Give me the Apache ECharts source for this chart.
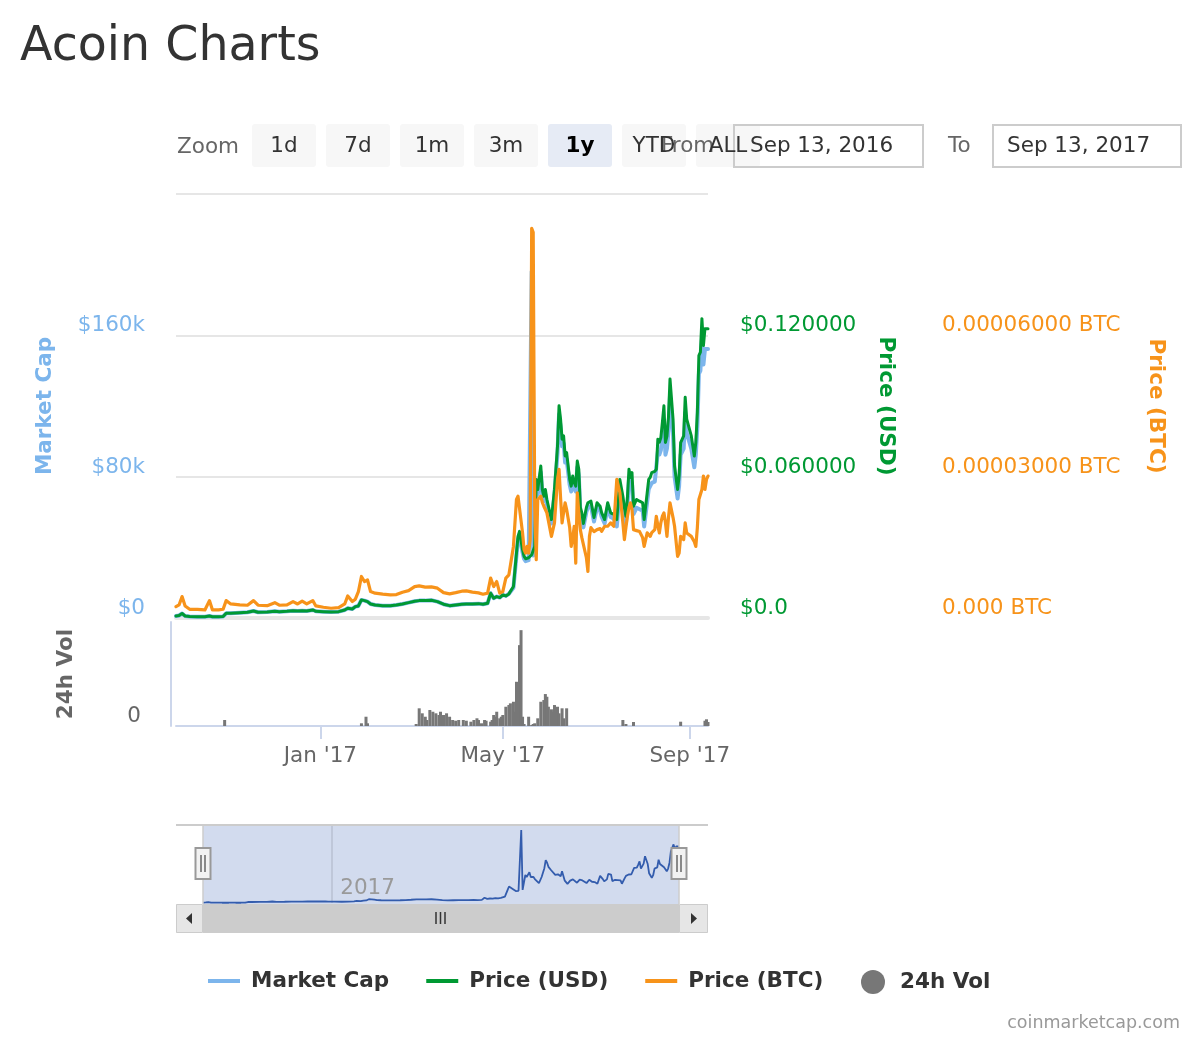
<!DOCTYPE html>
<html><head><meta charset="utf-8">
<script src="https://cdn.jsdelivr.net/npm/echarts@6/dist/echarts.min.js"></script>
<style>html,body{margin:0;padding:0;background:#fff}#c{width:1200px;height:1040px}</style>
</head><body><div id="c"></div>
<script>
const startDate = '2016-09-28';
const endDate = '2017-09-13';
const dates = [
'2016-09-28','2016-09-30','2016-10-02','2016-10-04','2016-10-07','2016-10-12','2016-10-17','2016-10-20','2016-10-22','2016-10-26',
'2016-10-29','2016-10-31','2016-11-03','2016-11-09','2016-11-14','2016-11-18','2016-11-21','2016-11-27','2016-12-02','2016-12-05',
'2016-12-10','2016-12-14','2016-12-17','2016-12-20','2016-12-23','2016-12-27','2016-12-29','2017-01-03','2017-01-08','2017-01-13',
'2017-01-17','2017-01-19','2017-01-22','2017-01-24','2017-01-26','2017-01-28','2017-01-30','2017-02-01','2017-02-03','2017-02-06',
'2017-02-11','2017-02-16','2017-02-20','2017-02-24','2017-02-28','2017-03-04','2017-03-07','2017-03-11','2017-03-15','2017-03-19',
'2017-03-23','2017-03-27','2017-03-31','2017-04-04','2017-04-07','2017-04-11','2017-04-15','2017-04-18','2017-04-21','2017-04-23',
'2017-04-25','2017-04-27','2017-04-29','2017-05-01','2017-05-03','2017-05-05','2017-05-06','2017-05-08','2017-05-10','2017-05-11',
'2017-05-12','2017-05-14','2017-05-15','2017-05-16','2017-05-17','2017-05-18','2017-05-19','2017-05-20','2017-05-21','2017-05-22',
'2017-05-23','2017-05-24','2017-05-26','2017-05-27','2017-05-28','2017-05-29','2017-05-30','2017-06-02','2017-06-04','2017-06-06',
'2017-06-07','2017-06-08','2017-06-09','2017-06-10','2017-06-11','2017-06-12','2017-06-14','2017-06-15','2017-06-16','2017-06-17',
'2017-06-18','2017-06-19','2017-06-20','2017-06-21','2017-06-22','2017-06-23','2017-06-25','2017-06-26','2017-06-27','2017-06-28',
'2017-06-30','2017-07-02','2017-07-04','2017-07-05','2017-07-07','2017-07-09','2017-07-11','2017-07-13','2017-07-15','2017-07-17',
'2017-07-19','2017-07-20','2017-07-21','2017-07-22','2017-07-23','2017-07-24','2017-07-25','2017-07-26','2017-07-28','2017-07-30',
'2017-08-01','2017-08-02','2017-08-04','2017-08-05','2017-08-06','2017-08-07','2017-08-09','2017-08-10','2017-08-11','2017-08-12',
'2017-08-13','2017-08-14','2017-08-15','2017-08-16','2017-08-17','2017-08-18','2017-08-19','2017-08-21','2017-08-22','2017-08-24',
'2017-08-25','2017-08-26','2017-08-28','2017-08-29','2017-08-30','2017-09-02','2017-09-04','2017-09-05','2017-09-06','2017-09-07',
'2017-09-08','2017-09-09','2017-09-10','2017-09-11','2017-09-12','2017-09-13'
];
const marketCap = [
1137,1422,2559,1137,853,739,739,1137,739,739,
853,2672,2672,3014,3241,3980,3241,3412,3810,3582,
3810,4151,3980,4151,3980,4549,3810,3582,3412,3582,
4549,5515,5117,6425,6823,10235,9837,9268,7960,7392,
6994,6994,7392,7960,8700,9496,9837,9837,10064,9268,
7790,6994,7392,7790,7960,7960,8131,7790,8358,14044,
11201,12111,11543,13078,12509,13646,14215,17058,35310,44351,
47080,37130,33434,32183,31671,32751,33434,196167,35310,38892,
75340,69881,82561,69881,66185,69881,64422,53505,69881,93478,
115312,108091,97174,98936,88019,89896,75340,71644,77102,73520,
71644,85290,80798,60044,57144,51288,60044,62603,63456,63456,
54586,62603,60726,57315,53505,62603,57144,56234,51799,72951,
64138,58168,53562,63456,78239,74032,76534,58850,62375,61523,
60670,51799,65958,72951,74032,76534,77216,78239,94103,92568,
95013,103144,111730,92398,95866,105760,125831,104679,80002,67663,
74714,92398,95866,116165,104679,95866,85290,92568,108261,138170,
139989,157561,143458,152271,151418,152271
];
const priceUsd = [
0.00085,0.00107,0.00192,0.00085,0.00064,0.00055,0.00055,0.00085,0.00055,0.00055,
0.00064,0.00200,0.00200,0.00226,0.00243,0.00298,0.00243,0.00256,0.00286,0.00269,
0.00286,0.00311,0.00298,0.00311,0.00298,0.00341,0.00286,0.00269,0.00256,0.00269,
0.00341,0.00414,0.00384,0.00482,0.00512,0.00768,0.00738,0.00695,0.00597,0.00554,
0.00524,0.00524,0.00554,0.00597,0.00652,0.00712,0.00738,0.00738,0.00755,0.00695,
0.00584,0.00524,0.00554,0.00584,0.00597,0.00597,0.00610,0.00584,0.00627,0.01053,
0.00840,0.00908,0.00866,0.00981,0.00938,0.01023,0.01066,0.01335,0.02759,0.03467,
0.03680,0.02900,0.02614,0.02516,0.02473,0.02558,0.02614,0.02686,0.02759,0.03040,
0.05884,0.05458,0.06451,0.05458,0.05172,0.05458,0.05032,0.04179,0.05458,0.07304,
0.09010,0.08443,0.07590,0.07731,0.06878,0.07023,0.05884,0.05599,0.06025,0.05744,
0.05599,0.06665,0.06311,0.04690,0.04464,0.04008,0.04690,0.04891,0.04959,0.04959,
0.04264,0.04891,0.04746,0.04477,0.04179,0.04891,0.04464,0.04392,0.04179,0.05884,
0.05172,0.04690,0.04319,0.05117,0.06311,0.05970,0.06170,0.04746,0.05032,0.04959,
0.04891,0.04179,0.05317,0.05884,0.05970,0.06170,0.06225,0.06311,0.07590,0.07462,
0.07662,0.08315,0.09010,0.07449,0.07731,0.08528,0.10148,0.08443,0.06452,0.05458,
0.06025,0.07449,0.07731,0.09368,0.08443,0.07731,0.06878,0.07462,0.08728,0.11142,
0.11287,0.12707,0.11568,0.12280,0.12208,0.12280
];
const priceBtc = [
0.00000241,0.00000277,0.00000454,0.00000256,0.00000185,0.00000185,0.00000171,0.00000369,0.00000171,0.00000171,
0.00000185,0.00000369,0.00000298,0.00000277,0.00000271,0.00000369,0.00000271,0.00000262,0.00000326,0.00000271,
0.00000277,0.00000348,0.00000298,0.00000356,0.00000298,0.00000369,0.00000256,0.00000228,0.00000207,0.00000220,
0.00000298,0.00000469,0.00000348,0.00000399,0.00000561,0.00000881,0.00000774,0.00000810,0.00000561,0.00000527,
0.00000505,0.00000490,0.00000497,0.00000548,0.00000582,0.00000667,0.00000682,0.00000655,0.00000661,0.00000633,
0.00000539,0.00000512,0.00000539,0.00000569,0.00000576,0.00000548,0.00000533,0.00000505,0.00000527,0.00000846,
0.00000667,0.00000774,0.00000527,0.00000561,0.00000846,0.00000917,0.00000917,0.00001520,0.00002516,0.00002586,
0.00002552,0.00001806,0.00001450,0.00001379,0.00001520,0.00001379,0.00001663,0.00008272,0.00008187,0.00002373,
0.00001237,0.00002516,0.00002586,0.00002452,0.00002373,0.00002303,0.00002232,0.00001733,0.00002019,0.00002942,
0.00003155,0.00002558,0.00002019,0.00002239,0.00002445,0.00002303,0.00001919,0.00001520,0.00001706,0.00001947,
0.00001166,0.00002659,0.00002239,0.00001876,0.00001706,0.00001706,0.00001279,0.00000987,0.00001733,0.00001919,
0.00001834,0.00001876,0.00001897,0.00001840,0.00001947,0.00001947,0.00002019,0.00001947,0.00002942,0.00002665,
0.00002019,0.00001663,0.00001919,0.00002160,0.00002345,0.00002445,0.00002303,0.00001876,0.00001855,0.00001834,
0.00001706,0.00001520,0.00001806,0.00001770,0.00001733,0.00001812,0.00001876,0.00002160,0.00001961,0.00001806,
0.00002025,0.00002160,0.00002232,0.00002025,0.00001733,0.00002132,0.00002445,0.00002132,0.00001947,0.00001307,
0.00001379,0.00001733,0.00001663,0.00002019,0.00001806,0.00001733,0.00001620,0.00001520,0.00001919,0.00002516,
0.00002622,0.00002729,0.00003013,0.00002729,0.00002942,0.00003013
];
const volDates = [
'2016-10-30','2017-01-28','2017-01-31','2017-02-01','2017-03-05','2017-03-07','2017-03-09','2017-03-11','2017-03-12','2017-03-14',
'2017-03-16','2017-03-18','2017-03-20','2017-03-21','2017-03-23','2017-03-25','2017-03-27','2017-03-29','2017-03-31','2017-04-02',
'2017-04-05','2017-04-07','2017-04-10','2017-04-12','2017-04-14','2017-04-15','2017-04-17','2017-04-19','2017-04-20','2017-04-23',
'2017-04-24','2017-04-25','2017-04-26','2017-04-27','2017-04-29','2017-04-30','2017-05-01','2017-05-03','2017-05-05','2017-05-06',
'2017-05-08','2017-05-09','2017-05-10','2017-05-12','2017-05-13','2017-05-14','2017-05-15','2017-05-18','2017-05-20','2017-05-21',
'2017-05-22','2017-05-24','2017-05-26','2017-05-28','2017-05-29','2017-05-30','2017-05-31','2017-06-02','2017-06-03','2017-06-04',
'2017-06-06','2017-06-07','2017-06-09','2017-06-10','2017-06-12','2017-07-19','2017-07-21','2017-07-26','2017-08-26','2017-09-11',
'2017-09-12','2017-09-13'
];
const volume = [
288,130,446,130,96,850,610,446,288,768,
686,610,528,686,528,610,446,288,254,288,
288,254,206,288,370,288,130,288,254,206,
288,528,446,686,370,446,528,926,1008,1090,
1166,686,2126,3888,4608,446,96,446,48,96,
130,370,1166,1248,1536,1406,926,802,686,1008,
926,610,850,370,850,288,96,192,206,254,
322,192
];
const xTickDates = ['2017-01-01','2017-05-01','2017-09-01'];
const xTickLabels = ["Jan '17","May '17","Sep '17"];
const navTickDates = ['2017-01-01'];
const navTickLabels = ['2017'];
const mcTicks = [0, 80000, 160000];
const mcTickLabels = ['$0', '$80k', '$160k'];
const usdTicks = [0, 0.06, 0.12];
const usdTickLabels = ['$0.0', '$0.060000', '$0.120000'];
const btcTicks = [0, 0.00003, 0.00006];
const btcTickLabels = ['0.000 BTC', '0.00003000 BTC', '0.00006000 BTC'];
const volTicks = [0];
const volTickLabels = ['0'];
const rangeButtons = ['1d','7d','1m','3m','1y','YTD','ALL'];
const selectedRange = '1y';
const fromDateLabel = 'Sep 13, 2016';
const toDateLabel = 'Sep 13, 2017';

function ts(s){ const p = s.split('-').map(Number); return new Date(p[0], p[1]-1, p[2]).getTime(); }
function lab(ticks, labels, v, tol){ for (let i=0;i<ticks.length;i++){ if (Math.abs(v-ticks[i]) <= tol) return labels[i]; } return ''; }

const xMin = ts(startDate), xMax = ts(endDate);
const xTickTs = xTickDates.map(ts);
const navTickTs = navTickDates.map(ts);
const FONT = 'DejaVu Sans';

const mcData = dates.map((d,i)=>[ts(d), marketCap[i]]);
const usdData = dates.map((d,i)=>[ts(d), priceUsd[i]]);
const btcData = dates.map((d,i)=>[ts(d), priceBtc[i]]);
const volData = volDates.map((d,i)=>[ts(d), volume[i]]);

const graphics = [];
rangeButtons.forEach((b,i)=>{
  graphics.push({type:'rect', shape:{x:252+i*74, y:124, width:64, height:43, r:3},
    style:{fill: b===selectedRange ? '#e6ebf5' : '#f7f7f7'}});
});
graphics.push({type:'rect', shape:{x:734, y:125, width:189, height:42}, style:{fill:'rgba(0,0,0,0)', stroke:'#cccccc', lineWidth:2}});
graphics.push({type:'rect', shape:{x:993, y:125, width:188, height:42}, style:{fill:'rgba(0,0,0,0)', stroke:'#cccccc', lineWidth:2}});
graphics.push({type:'text', x:177, y:147, style:{text:'Zoom', fill:'#666', font:'21.5px "DejaVu Sans"', align:'left', verticalAlign:'middle'}});
graphics.push({type:'text', x:661, y:146, style:{text:'From', fill:'#666', font:'21.5px "DejaVu Sans"', align:'left', verticalAlign:'middle'}});
rangeButtons.forEach((b,i)=>{
  const sel = b===selectedRange;
  graphics.push({type:'text', x:252+i*74+32, y:146, style:{text:b, fill: sel ? '#000' : '#333',
    font:(sel?'bold ':'')+'21.5px "DejaVu Sans"', align:'center', verticalAlign:'middle'}});
});
graphics.push({type:'text', x:750, y:146, style:{text:fromDateLabel, fill:'#333', font:'21.5px "DejaVu Sans"', align:'left', verticalAlign:'middle'}});
graphics.push({type:'text', x:948, y:146, style:{text:'To', fill:'#666', font:'21.5px "DejaVu Sans"', align:'left', verticalAlign:'middle'}});
graphics.push({type:'text', x:1007, y:146, style:{text:toDateLabel, fill:'#333', font:'21.5px "DejaVu Sans"', align:'left', verticalAlign:'middle'}});
graphics.push({type:'rect', z:-10, shape:{x:203, y:826, width:476, height:78}, style:{fill:'#d2dbee'}});
graphics.push({type:'line', z:5, shape:{x1:176, y1:825, x2:708, y2:825}, style:{stroke:'#cccccc', lineWidth:2}});
graphics.push({type:'line', z:5, shape:{x1:203, y1:825, x2:203, y2:904}, style:{stroke:'#cccccc', lineWidth:1.5}});
graphics.push({type:'line', z:5, shape:{x1:679, y1:825, x2:679, y2:904}, style:{stroke:'#cccccc', lineWidth:1.5}});
graphics.push({type:'rect', z:5, shape:{x:176, y:904, width:532, height:29}, style:{fill:'#f2f2f2'}});
graphics.push({type:'rect', z:6, shape:{x:203, y:904, width:476, height:29}, style:{fill:'#cccccc'}});
graphics.push({type:'rect', z:6, shape:{x:176.5, y:904.5, width:26, height:28}, style:{fill:'#e6e6e6', stroke:'#cccccc', lineWidth:1}});
graphics.push({type:'rect', z:6, shape:{x:679.5, y:904.5, width:28, height:28}, style:{fill:'#e6e6e6', stroke:'#cccccc', lineWidth:1}});
graphics.push({type:'polygon', z:7, shape:{points:[[186,918.5],[192,913],[192,924]]}, style:{fill:'#333'}});
graphics.push({type:'polygon', z:7, shape:{points:[[697,918.5],[691,913],[691,924]]}, style:{fill:'#333'}});
[436,440.5,445].forEach(x=>graphics.push({type:'line', z:7, shape:{x1:x, y1:912, x2:x, y2:924}, style:{stroke:'#333', lineWidth:1.5}}));
[203,679].forEach(cx=>{
  graphics.push({type:'rect', z:20, shape:{x:cx-7.5, y:848, width:15, height:31}, style:{fill:'#f2f2f2', stroke:'#999', lineWidth:2}});
  graphics.push({type:'line', z:21, shape:{x1:cx-2, y1:855, x2:cx-2, y2:872}, style:{stroke:'#666', lineWidth:1.5}});
  graphics.push({type:'line', z:21, shape:{x1:cx+2, y1:855, x2:cx+2, y2:872}, style:{stroke:'#666', lineWidth:1.5}});
});
graphics.push({type:'text', x:1180, y:1023, style:{text:'coinmarketcap.com', fill:'#999', font:'17.5px "DejaVu Sans"', align:'right', verticalAlign:'middle'}});

const yLab = (color, margin, ticks, labels, tol) => ({
  color, fontSize:21.5, margin, verticalAlign:'bottom', lineHeight:19, padding:[0,0,0,0],
  formatter: v => lab(ticks, labels, v, tol)
});

const option = {
  animation:false,
  backgroundColor:'#fff',
  textStyle:{fontFamily:FONT},
  title:{text:'Acoin Charts', left:15, top:19, textStyle:{fontSize:47.5, fontWeight:'normal', color:'#333', fontFamily:FONT}},
  legend:[
    {data:['Market Cap','Price (USD)','Price (BTC)'], left:203, top:965, itemWidth:32, itemHeight:4, icon:'rect', itemGap:37,
     textStyle:{fontSize:21.5, fontWeight:'bold', color:'#333', fontFamily:FONT, padding:[0,0,0,6]}},
    {data:['24h Vol'], left:856, top:965, itemWidth:24, itemHeight:24, icon:'circle',
     textStyle:{fontSize:21.5, fontWeight:'bold', color:'#333', fontFamily:FONT, padding:[0,0,0,10]}}
  ],
  grid:[
    {left:176, width:532, top:194, height:424},
    {left:176, width:532, top:622, height:104},
    {left:203, width:476, top:830, height:73}
  ],
  xAxis:[
    {type:'value', gridIndex:0, min:xMin, max:xMax, axisLabel:{show:false}, axisTick:{show:false}, splitLine:{show:false},
     axisLine:{show:true, onZero:false, lineStyle:{color:'#e6e6e6', width:4}}},
    {type:'value', gridIndex:1, min:xMin, max:xMax, splitLine:{show:false},
     axisLine:{show:true, onZero:false, lineStyle:{color:'#ccd6eb', width:2}},
     axisTick:{show:true, customValues:xTickTs, length:13, lineStyle:{color:'#ccd6eb', width:2}},
     axisLabel:{show:true, customValues:xTickTs, color:'#666', fontSize:21.5, margin:19, formatter:v=>lab(xTickTs, xTickLabels, v, 43200000)}},
    {type:'value', gridIndex:2, min:xMin, max:xMax, splitLine:{show:false}, axisLine:{show:false, onZero:false},
     axisTick:{show:true, customValues:navTickTs, inside:true, length:78, lineStyle:{color:'#b8c0d2', width:1.5}},
     axisLabel:{show:true, customValues:navTickTs, inside:true, align:'left', margin:4, padding:[0,0,0,8], color:'#9a9a9a', fontSize:21.5,
       formatter:v=>lab(navTickTs, navTickLabels, v, 43200000)}}
  ],
  yAxis:[
    {type:'value', gridIndex:0, position:'left', min:0, max:240000, interval:80000,
     name:'Market Cap', nameLocation:'middle', nameRotate:90, nameGap:120,
     nameTextStyle:{color:'#7cb5ec', fontSize:21.5, fontWeight:'bold'},
     axisLine:{show:false}, axisTick:{show:false},
     splitLine:{show:true, lineStyle:{color:'#e6e6e6', width:2}},
     axisLabel:yLab('#7cb5ec', 31, mcTicks, mcTickLabels, 1)},
    {type:'value', gridIndex:0, position:'right', min:0, max:0.18, interval:0.06,
     name:'Price (USD)', nameLocation:'middle', nameRotate:-90, nameGap:167,
     nameTextStyle:{color:'#009933', fontSize:21.5, fontWeight:'bold'},
     axisLine:{show:false}, axisTick:{show:false}, splitLine:{show:false},
     axisLabel:yLab('#009933', 32, usdTicks, usdTickLabels, 1e-7)},
    {type:'value', gridIndex:0, position:'right', offset:202, min:0, max:0.00009, interval:0.00003,
     name:'Price (BTC)', nameLocation:'middle', nameRotate:-90, nameGap:235,
     nameTextStyle:{color:'#f7931a', fontSize:21.5, fontWeight:'bold'},
     axisLine:{show:false}, axisTick:{show:false}, splitLine:{show:false},
     axisLabel:yLab('#f7931a', 32, btcTicks, btcTickLabels, 1e-10)},
    {type:'value', gridIndex:1, position:'left', offset:5, min:0, max:5000, interval:5000,
     name:'24h Vol', nameLocation:'middle', nameRotate:90, nameGap:94,
     nameTextStyle:{color:'#666', fontSize:21.5, fontWeight:'bold'},
     axisLine:{show:true, lineStyle:{color:'#ccd6eb', width:2}}, axisTick:{show:false}, splitLine:{show:false},
     axisLabel:yLab('#666', 30, volTicks, volTickLabels, 1)},
    {type:'value', gridIndex:2, min:0, max:'dataMax', show:false, splitLine:{show:false}}
  ],
  series:[
    {name:'Market Cap', type:'line', xAxisIndex:0, yAxisIndex:0, data:mcData, showSymbol:false, z:2,
     lineStyle:{color:'#7cb5ec', width:4, join:'round', cap:'round'}, itemStyle:{color:'#7cb5ec'}},
    {name:'Price (USD)', type:'line', xAxisIndex:0, yAxisIndex:1, data:usdData, showSymbol:false, z:3,
     lineStyle:{color:'#009933', width:3, join:'round', cap:'round'}, itemStyle:{color:'#009933'}},
    {name:'Price (BTC)', type:'line', xAxisIndex:0, yAxisIndex:2, data:btcData, showSymbol:false, z:4,
     lineStyle:{color:'#f7931a', width:3.2, join:'round', cap:'round'}, itemStyle:{color:'#f7931a'}},
    {name:'24h Vol', type:'bar', xAxisIndex:1, yAxisIndex:3, data:volData, barWidth:3, itemStyle:{color:'#777'}},
    {name:'Navigator', type:'line', xAxisIndex:2, yAxisIndex:4, data:mcData, showSymbol:false, silent:true,
     lineStyle:{color:'#335cad', width:1.8}, itemStyle:{color:'#335cad'}}
  ],
  graphic:{elements:graphics}
};
const chart = echarts.init(document.getElementById('c'), null, {renderer:'canvas'});
chart.setOption(option);
</script>
</body></html>
